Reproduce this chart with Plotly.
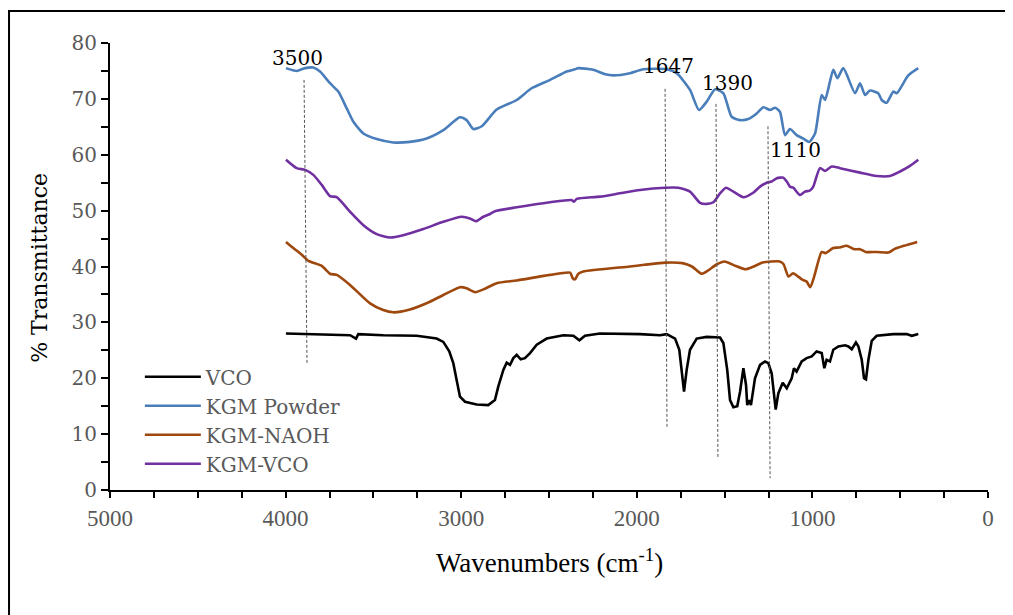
import plotly.graph_objects as go

# ---------------- data ----------------
vco_wn = [3998, 3880, 3633, 3599, 3586, 3444, 3253, 3140, 3102, 3068, 3045, 3026, 3007, 2978, 2912, 2846,
          2808, 2789, 2760, 2741, 2722, 2703, 2684, 2661, 2637, 2608, 2570, 2513, 2418, 2361, 2327, 2295,
          2210, 1982, 1868, 1830, 1782, 1758, 1744, 1731, 1716, 1697, 1659, 1602, 1526, 1507, 1485, 1469,
          1450, 1428, 1412, 1393, 1378, 1371, 1359, 1350, 1327, 1298, 1270, 1251, 1232, 1222, 1209, 1194,
          1169, 1146, 1118, 1105, 1090, 1061, 1033, 1004, 976, 947, 932, 919, 900, 881, 852, 814, 795, 776,
          752, 738, 719, 706, 695, 681, 662, 634, 539, 463, 434, 397]
vco_t = [28.0, 27.9, 27.7, 27.1, 27.9, 27.7, 27.6, 27.1, 26.5, 24.8, 22.7, 19.7, 16.7, 15.8, 15.3, 15.2,
         16.1, 18.5, 21.5, 22.8, 22.4, 23.6, 24.2, 23.4, 23.6, 24.5, 26.0, 27.1, 27.7, 27.6, 26.8, 27.6,
         28.0, 27.9, 27.7, 27.9, 27.1, 25.1, 21.5, 17.6, 21.5, 25.1, 27.1, 27.4, 27.3, 26.3, 21.5, 16.1,
         14.8, 15.0, 17.6, 21.8, 18.8, 15.2, 16.1, 15.2, 20.0, 22.4, 23.0, 22.7, 20.9, 17.9, 14.4, 17.3,
         19.2, 18.2, 20.0, 21.8, 21.2, 23.0, 23.6, 23.9, 24.8, 24.5, 21.8, 23.3, 23.0, 25.1, 25.7, 25.9, 25.7, 25.2,
         26.4, 25.7, 23.3, 20.0, 19.8, 23.3, 26.7, 27.6, 27.9, 27.9, 27.6, 27.9]

kgm_wn = [3998, 3937, 3889, 3842, 3804, 3747, 3700, 3652, 3614, 3557, 3481, 3387, 3292, 3197, 3102, 3007,
          2969, 2931, 2883, 2798, 2684, 2599, 2494, 2399, 2352, 2333, 2248, 2180, 2134, 2039, 1963, 1830,
          1773, 1697, 1646, 1602, 1555, 1507, 1460, 1412, 1365, 1317, 1279, 1241, 1213, 1185, 1156, 1128,
          1090, 1052, 1018, 985, 947, 928, 881, 858, 824, 757, 729, 700, 672, 625, 605, 577, 539, 520, 454, 397]
kgm_t = [75.5, 75.0, 75.5, 75.6, 74.9, 72.8, 71.3, 68.3, 65.9, 63.8, 62.8, 62.2, 62.3, 62.9, 64.4, 66.7,
         66.2, 64.6, 65.1, 68.1, 69.8, 71.9, 73.4, 74.9, 75.3, 75.5, 75.2, 74.4, 74.2, 74.6, 75.3, 75.3,
         74.6, 71.6, 68.0, 69.5, 71.7, 71.0, 66.8, 66.2, 66.4, 67.4, 68.5, 68.0, 68.4, 67.7, 63.5, 64.6,
         63.5, 62.9, 62.3, 63.8, 70.7, 69.8, 75.2, 73.7, 75.5, 71.0, 72.8, 70.7, 71.5, 71.0, 69.8, 69.3, 71.3, 71.0, 74.2, 75.5]

naoh_wn = [3998, 3956, 3908, 3870, 3794, 3747, 3709, 3633, 3519, 3444, 3387, 3292, 3178, 3102, 3007, 2969,
           2921, 2874, 2798, 2684, 2494, 2380, 2365, 2352, 2333, 2305, 2039, 1957, 1838, 1740, 1686, 1632,
           1598, 1544, 1501, 1436, 1381, 1327, 1284, 1186, 1164, 1136, 1110, 1077, 1055, 1033, 1012, 990,
           947, 925, 882, 849, 805, 762, 729, 697, 632, 567, 534, 479, 403]
naoh_t = [44.4, 43.3, 42.1, 41.0, 40.1, 38.7, 38.5, 36.7, 33.4, 32.2, 31.8, 32.3, 33.7, 34.9, 36.3, 36.1,
          35.4, 35.9, 37.0, 37.5, 38.5, 38.9, 37.9, 37.7, 38.7, 39.1, 40.0, 40.3, 40.7, 40.6, 40.0, 38.7,
          39.2, 40.4, 40.9, 40.1, 39.5, 40.1, 40.7, 40.9, 40.4, 38.2, 38.8, 38.1, 37.6, 37.3, 36.3, 38.2,
          42.6, 42.4, 43.3, 43.4, 43.7, 43.1, 43.1, 42.6, 42.6, 42.5, 43.1, 43.7, 44.4]

kvco_wn = [3998, 3937, 3889, 3842, 3794, 3747, 3709, 3633, 3557, 3481, 3405, 3330, 3216, 3102, 2997, 2950,
           2916, 2874, 2836, 2808, 2684, 2494, 2371, 2358, 2342, 2210, 2096, 1982, 1839, 1764, 1697, 1640,
           1602, 1564, 1526, 1492, 1450, 1393, 1337, 1298, 1260, 1232, 1203, 1166, 1146, 1128, 1109, 1071,
           1042, 1014, 995, 957, 928, 890, 843, 729, 634, 558, 501, 444, 397]
kvco_t = [59.1, 57.6, 57.3, 56.4, 54.6, 52.6, 52.4, 49.8, 47.4, 45.8, 45.2, 45.6, 46.7, 48.0, 48.9, 48.6,
          48.1, 48.9, 49.4, 49.9, 50.6, 51.5, 51.9, 51.6, 52.1, 52.5, 53.1, 53.7, 54.1, 54.1, 53.4, 51.4,
          51.2, 51.5, 53.1, 54.1, 53.4, 52.4, 53.2, 54.3, 55.0, 55.2, 55.8, 55.9, 55.2, 54.3, 54.1, 52.8,
          53.4, 53.6, 54.3, 57.6, 57.1, 57.9, 57.6, 56.8, 56.2, 56.2, 57.0, 58.0, 59.1]

series_names = ["VCO", "KGM Powder", "KGM-NAOH", "KGM-VCO"]
series_colors = ["#000000", "#4A7EBB", "#9E480E", "#7030A0"]
series_shape = ["linear", "spline", "spline", "spline"]

# peak markers: label text, label position, dashed guide line (x top, y top, x bottom, y bottom)
peak_labels = ["3500", "1647", "1390", "1110"]
label_x = [3935, 1817, 1481, 1099]
label_y = [77.4, 75.8, 72.8, 60.8]
guide_x0 = [3895, 1839, 1549, 1253]
guide_y0 = [73.4, 71.8, 69.1, 65.1]
guide_x1 = [3878, 1828, 1538, 1241]
guide_y1 = [22.4, 11.3, 5.9, 2.1]

x_ticks = [5000, 4000, 3000, 2000, 1000, 0]
y_ticks = [0, 10, 20, 30, 40, 50, 60, 70, 80]

# ---------------- figure ----------------
fig = go.Figure()
all_x = [vco_wn, kgm_wn, naoh_wn, kvco_wn]
all_y = [vco_t, kgm_t, naoh_t, kvco_t]
for name, col, shp, xs, ys in zip(series_names, series_colors, series_shape, all_x, all_y):
    line = dict(color=col, width=2.6, shape=shp)
    if shp == "spline":
        line["smoothing"] = 0.6
    fig.add_trace(go.Scatter(x=xs, y=ys, mode="lines", name=name, line=line))

shapes = []
for xa, ya, xb, yb in zip(guide_x0, guide_y0, guide_x1, guide_y1):
    shapes.append(dict(type="line", xref="x", yref="y", x0=xa, y0=ya, x1=xb, y1=yb,
                       line=dict(color="#555555", width=1, dash="3px,2px")))
# outer frame of the picture
shapes.append(dict(type="rect", xref="paper", yref="paper",
                   x0=-0.1150, x1=1.06, y0=-0.4, y1=1.0716,
                   line=dict(color="black", width=2), fillcolor="rgba(0,0,0,0)"))

annotations = []
for t, lx, ly in zip(peak_labels, label_x, label_y):
    annotations.append(dict(x=lx, y=ly, xref="x", yref="y", text=t, showarrow=False,
                            xanchor="center", yanchor="middle",
                            font=dict(family="DejaVu Serif", size=20, color="black")))
annotations.append(dict(x=0.501, y=-0.159, xref="paper", yref="paper",
                        xanchor="center", yanchor="middle",
                        text="Wavenumbers (cm<sup>-1</sup>)", showarrow=False,
                        font=dict(family="Liberation Serif", size=27, color="black")))
annotations.append(dict(x=-0.0797, y=0.497, xref="paper", yref="paper",
                        xanchor="center", yanchor="middle",
                        text="% Transmittance", showarrow=False, textangle=-90,
                        font=dict(family="DejaVu Serif", size=22, color="black")))

fig.update_layout(
    width=1005, height=607,
    margin=dict(l=102, r=25, t=35, b=125),
    paper_bgcolor="white", plot_bgcolor="white",
    shapes=shapes, annotations=annotations,
    showlegend=True,
    legend=dict(x=0.034, y=0.297, xanchor="left", yanchor="top",
                bgcolor="rgba(0,0,0,0)", borderwidth=0, itemwidth=56,
                font=dict(family="DejaVu Serif", size=20, color="#595959"),
                tracegroupgap=0),
)
fig.update_xaxes(range=[5000, 0], tickvals=x_ticks, ticks="outside", ticklen=6, tickwidth=1.5,
                 tickcolor="black", showline=True, linecolor="black", linewidth=2,
                 showgrid=False, zeroline=False,
                 tickfont=dict(family="Liberation Serif", size=23, color="#595959"),
                 minor=dict(dtick=250, ticks="outside", ticklen=6, tickwidth=1.5, tickcolor="black",
                            showgrid=False))
fig.update_yaxes(range=[0, 80], tickvals=y_ticks, ticks="outside", ticklen=7, tickwidth=1.5,
                 tickcolor="black", showline=True, linecolor="black", linewidth=2,
                 showgrid=False, zeroline=False,
                 tickfont=dict(family="DejaVu Serif", size=20, color="#595959"),
                 minor=dict(dtick=5, ticks="outside", ticklen=7, tickwidth=1.5, tickcolor="black",
                            showgrid=False))

fig.write_html("out.html")
